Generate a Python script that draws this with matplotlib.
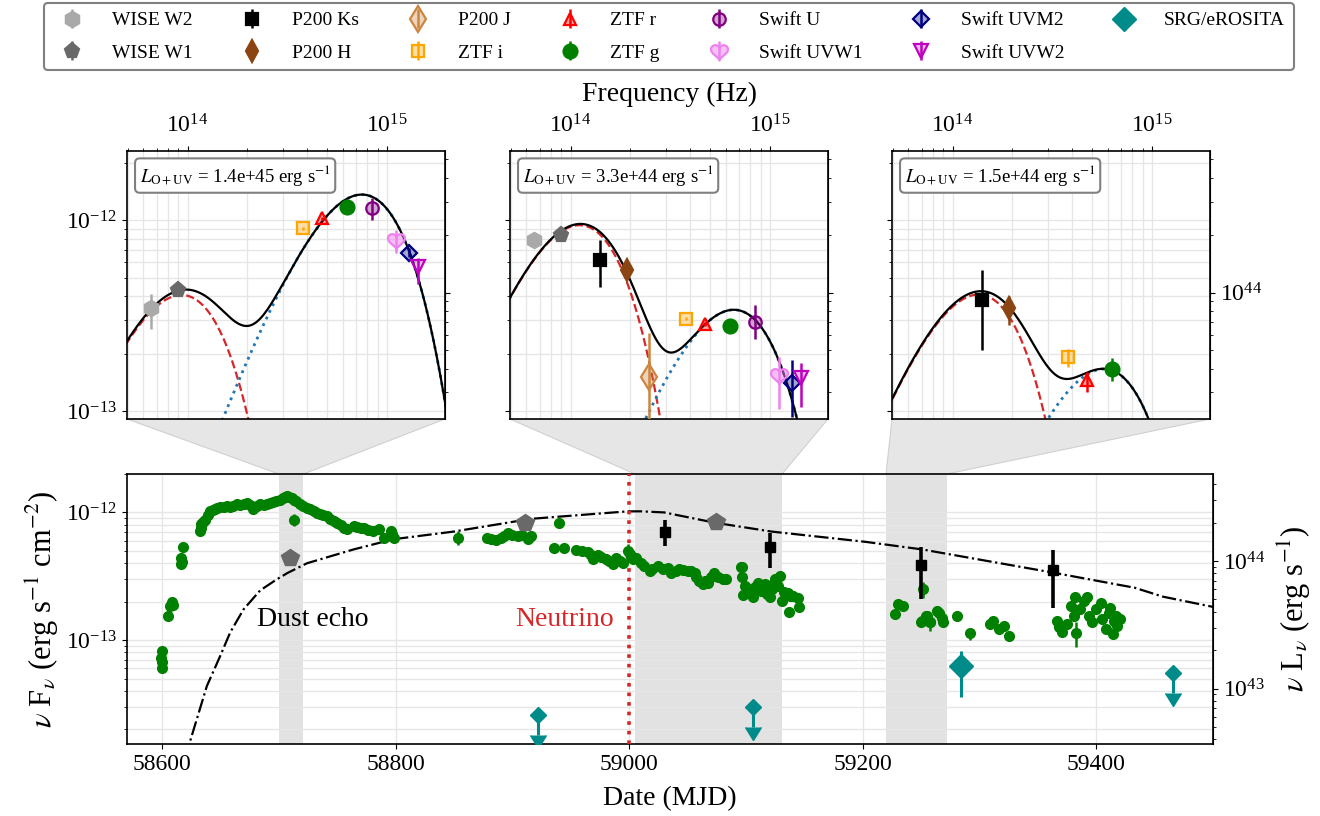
import numpy as np
import matplotlib
matplotlib.use("Agg")
import matplotlib.pyplot as plt
import matplotlib.colors as mcolors
from matplotlib.patches import Polygon
from matplotlib.ticker import NullFormatter

plt.rcParams['font.family'] = ['Liberation Serif', 'DejaVu Serif']
plt.rcParams['mathtext.fontset'] = 'stix'

# ------------------------------------------------------------------ data
lum_factor = 2.4e56          # 4 pi d_L^2  (nuL_nu / nuF_nu)
neutrino_mjd = 59000

# ZTF g light curve (MJD, nuFnu in 1e-13 erg/s/cm2)
ztf_g_mjd = [58599.7, 58600.0, 58600.3, 58599.5, 58605.0, 58607.0, 58608.6, 58609.2,
             58616.3, 58616.6, 58617.2, 58617.8, 58632.6, 58633.0, 58633.5, 58635.0,
             58637.0, 58639.0, 58641.0, 58643.5, 58645.0, 58647.0, 58650.0, 58653.0,
             58655.5, 58658.0, 58661.0, 58664.0, 58667.0, 58670.0, 58672.7, 58675.0,
             58678.0, 58681.0, 58684.0, 58687.0, 58690.0, 58692.7, 58695.0, 58698.0,
             58701.0, 58703.5, 58705.5, 58707.0, 58709.0, 58711.0, 58712.7, 58715.0,
             58718.5, 58721.0, 58724.0, 58727.0, 58730.0, 58733.0, 58735.6, 58738.0,
             58741.0, 58744.0, 58747.0, 58750.0, 58753.0, 58756.0, 58758.5, 58764.0,
             58767.0, 58770.0, 58773.0, 58776.0, 58781.0, 58785.7, 58790.0, 58795.7,
             58797.0, 58798.5, 58878.7, 58882.0, 58886.0, 58890.0, 58893.0, 58896.0,
             58900.0, 58904.5, 58908.0, 58913.0, 58916.0, 58936.0, 58944.5, 58954.5,
             58960.0, 58964.5, 58967.0, 58969.0, 58973.0, 58976.0, 58980.0, 58983.0,
             58986.0, 58989.0, 58992.0, 58994.6, 59000.5, 59001.7, 59003.0, 59006.0,
             59010.0, 59013.0, 59017.5, 59020.0, 59024.6, 59028.9, 59033.0, 59036.0,
             59040.0, 59043.0, 59046.0, 59050.0, 59053.0, 59056.0, 59057.5, 59060.0,
             59063.0, 59065.0, 59067.5, 59070.0, 59072.5, 59076.0, 59080.4, 59083.0,
             59095.5, 59096.7, 59097.6, 59099.0, 59102.0, 59104.0, 59106.0, 59108.0,
             59110.5, 59112.0, 59113.3, 59116.0, 59118.0, 59120.5, 59122.0, 59124.0,
             59125.0, 59127.5, 59129.0, 59130.5, 59133.0, 59136.0, 59138.0, 59140.5,
             59136.5, 59144.6, 59145.5, 59227.7, 59230.6, 59234.8, 59250.0, 59250.6,
             59254.0, 59255.0, 59257.8, 59263.5, 59265.0, 59268.0, 59269.0, 59280.7,
             59309.4, 59312.0, 59316.5, 59320.7, 59325.0, 59366.5, 59368.0, 59370.8,
             59375.0, 59378.0, 59381.0, 59382.0, 59386.5, 59389.4, 59392.3, 59393.6,
             59396.5, 59399.4, 59403.7, 59405.0, 59408.0, 59411.0, 59412.0, 59414.0,
             59415.0, 59416.7, 59418.0, 59420.0]
ztf_g_flux13 = [0.825, 0.67, 0.61, 0.72, 1.54, 1.85, 1.98, 1.90,
                4.43, 3.92, 4.10, 5.36, 7.14, 7.60, 8.06, 8.40,
                8.80, 9.50, 10.2, 10.4, 10.7, 10.9, 11.0, 11.1,
                11.2, 11.0, 11.3, 11.55, 11.4, 11.6, 11.9, 11.5,
                10.55, 11.2, 11.55, 11.4, 11.7, 11.9, 12.0, 12.3,
                12.6, 12.9, 13.3, 13.4, 13.1, 12.9, 12.6, 12.2,
                11.55, 11.3, 10.9, 10.55, 10.3, 9.9, 9.65, 9.5,
                9.35, 8.9, 8.6, 8.3, 8.0, 7.6, 7.37, 7.9,
                7.7, 7.5, 7.6, 7.3, 7.14, 7.37, 6.34, 7.14,
                6.8, 6.34, 6.3, 6.2, 6.1, 6.3, 6.5, 6.9,
                6.6, 6.5, 6.6, 6.15, 6.5, 5.23, 5.23, 5.07,
                4.95, 4.9, 4.6, 4.35, 4.6, 4.5, 4.35, 4.2,
                3.93, 4.43, 4.2, 4.0, 4.7, 4.56, 4.3, 4.43,
                4.0, 3.8, 3.48, 3.6, 3.8, 3.6, 3.7, 3.38,
                3.5, 3.6, 3.55, 3.48, 3.5, 3.38, 3.14, 2.9,
                2.74, 2.9, 2.82, 3.1, 3.38, 3.14, 2.99, 3.0,
                3.76, 3.1, 2.25, 2.67, 2.5, 2.3, 2.16, 2.6,
                2.82, 2.5, 2.44, 2.74, 2.3, 2.16, 2.5, 2.8,
                2.99, 2.67, 3.18, 2.02, 2.4, 2.32, 2.2, 2.22,
                1.66, 2.12, 1.83, 1.60, 1.91, 1.85, 1.38, 1.42,
                1.55, 1.55, 1.38, 1.69, 1.64, 1.50, 1.38, 1.55,
                1.33, 1.42, 1.22, 1.29, 1.08, 1.42, 1.26, 1.15,
                1.33, 1.85, 1.55, 2.16, 1.75, 2.02, 2.16, 1.55,
                1.38, 1.75, 1.97, 1.46, 1.22, 1.64, 1.80, 1.12,
                1.42, 1.55, 1.30, 1.45]
# ZTF g points with visible error bars
ztf_ge_mjd = [58713.0, 58853.5, 58940.0, 58998.9, 59252.0, 59383.0, 59292.0, 59097.0, 59257.8]
ztf_ge_flux13 = [8.8, 6.34, 8.3, 5.0, 2.5, 1.13, 1.13, 3.76, 1.38]
ztf_ge_err13 = [1.0, 0.8, 0.8, 0.7, 0.35, 0.25, 0.12, 0.35, 0.2]

# WISE W1 light curve
wise_w1_mjd = [58710, 58911, 59074]
wise_w1_flux = [4.37e-13, 8.3e-13, 8.4e-13]

# P200 Ks light curve
p200_ks_mjd = [59031, 59121, 59250, 59363]
p200_ks_flux = [7.05e-13, 5.38e-13, 3.85e-13, 3.55e-13]
p200_ks_lo = [5.5e-13, 3.64e-13, 2.1e-13, 1.79e-13]
p200_ks_hi = [8.7e-13, 6.9e-13, 5.4e-13, 5.1e-13]

# SRG/eROSITA
srg_mjd = [59284]
srg_flux = [6.3e-14]
srg_lo = [3.6e-14]
srg_hi = [8.2e-14]
srg_ul_mjd = [58922, 59106, 59466]
srg_ul_flux = [2.58e-14, 3.0e-14, 5.5e-14]

# dust-echo model (dash-dot line)
model_mjd = [58620.0, 58622.6, 58638.4, 58649.8, 58658.4, 58669.8, 58684.0, 58698.5,
             58707.3, 58724.2, 58764.0, 58798.3, 58849.8, 58915.9, 58999.0, 59010.0,
             59030.0, 59073.0, 59122.0, 59202.0, 59251.0, 59362.0, 59433.0, 59457.0, 59500.0]
model_flux = [1.2e-14, 1.46e-14, 4.37e-14, 7.5e-14, 1.15e-13, 1.74e-13, 2.45e-13, 3.0e-13,
              3.35e-13, 4.0e-13, 5.13e-13, 6.17e-13, 7.08e-13, 8.91e-13, 1.02e-12, 1.02e-12,
              1.0e-12, 8.32e-13, 7.08e-13, 5.89e-13, 5.13e-13, 3.39e-13, 2.57e-13, 2.19e-13, 1.82e-13]

# SED epochs shaded in the light curve (MJD ranges)
epoch_start = [58700, 59005, 59220]
epoch_end = [58721, 59131, 59272]
epoch_lum = ['1.4e+45', '3.3e+44', '1.5e+44']

# blackbody components per epoch: peak frequency (Hz) and peak nuFnu
dust_peak_nu = [9.33e13, 1.11e14, 1.35e14]
dust_peak_flux = [4.05e-13, 9.4e-13, 4.07e-13]
opt_peak_nu = [7.5e14, 6.6e14, 5.75e14]
opt_peak_flux = [1.36e-12, 3.39e-13, 1.66e-13]

# band effective frequencies (Hz)
band_nu = {'WISE W2': 6.55e13, 'WISE W1': 8.98e13, 'P200 Ks': 1.40e14, 'P200 H': 1.91e14,
           'P200 J': 2.49e14, 'ZTF i': 3.78e14, 'ZTF r': 4.71e14, 'ZTF g': 6.35e14,
           'Swift U': 8.45e14, 'Swift UVW1': 1.11e15, 'Swift UVM2': 1.30e15,
           'Swift UVW2': 1.43e15}

# SED points: band, flux, lower, upper
sed1_band = ['WISE W2', 'WISE W1', 'ZTF i', 'ZTF r', 'ZTF g', 'Swift U', 'Swift UVW1',
             'Swift UVM2', 'Swift UVW2']
sed1_flux = [3.45e-13, 4.3e-13, 9.05e-13, 1.02e-12, 1.17e-12, 1.16e-12, 7.85e-13, 6.74e-13, 5.7e-13]
sed1_lo = [2.7e-13, 4.2e-13, 8.9e-13, 1.0e-12, 1.15e-12, 1.0e-12, 6.7e-13, 6.4e-13, 4.6e-13]
sed1_hi = [4.1e-13, 4.4e-13, 9.2e-13, 1.04e-12, 1.19e-12, 1.3e-12, 8.9e-13, 7.1e-13, 6.3e-13]

sed2_band = ['WISE W2', 'WISE W1', 'P200 Ks', 'P200 H', 'P200 J', 'ZTF i', 'ZTF r', 'ZTF g',
             'Swift U', 'Swift UVW1', 'Swift UVM2', 'Swift UVW2']
sed2_flux = [7.85e-13, 8.34e-13, 6.18e-13, 5.47e-13, 1.51e-13, 3.05e-13, 2.85e-13, 2.8e-13,
             2.94e-13, 1.54e-13, 1.41e-13, 1.48e-13]
sed2_lo = [7.7e-13, 8.2e-13, 4.48e-13, 5.2e-13, 5.0e-14, 2.98e-13, 2.78e-13, 2.72e-13,
           2.38e-13, 1.03e-13, 9.3e-14, 1.05e-13]
sed2_hi = [8.0e-13, 8.5e-13, 7.85e-13, 5.75e-13, 2.55e-13, 3.12e-13, 2.92e-13, 2.88e-13,
           3.59e-13, 1.92e-13, 1.85e-13, 1.79e-13]

sed3_band = ['P200 Ks', 'P200 H', 'ZTF i', 'ZTF r', 'ZTF g']
sed3_flux = [3.81e-13, 3.45e-13, 1.92e-13, 1.45e-13, 1.65e-13]
sed3_lo = [2.08e-13, 2.82e-13, 1.69e-13, 1.26e-13, 1.44e-13]
sed3_hi = [5.47e-13, 3.98e-13, 2.1e-13, 1.61e-13, 1.89e-13]

sed_bands = [sed1_band, sed2_band, sed3_band]
sed_flux = [sed1_flux, sed2_flux, sed3_flux]
sed_lo = [sed1_lo, sed2_lo, sed3_lo]
sed_hi = [sed1_hi, sed2_hi, sed3_hi]

legend_order = ['WISE W2', 'WISE W1', 'P200 Ks', 'P200 H', 'P200 J', 'ZTF i', 'ZTF r', 'ZTF g',
                'Swift U', 'Swift UVW1', 'Swift UVM2', 'Swift UVW2', 'SRG/eROSITA']

# ------------------------------------------------------------------ styles
t = np.linspace(0, 2 * np.pi, 80)
heart = np.column_stack([16 * np.sin(t) ** 3,
                         13 * np.cos(t) - 5 * np.cos(2 * t) - 2 * np.cos(3 * t) - np.cos(4 * t)])


def semi(c, a=0.35):
    return mcolors.to_rgba(c, a)


styles = {
    'WISE W2': dict(marker='h', color='darkgray', mfc='darkgray', ms=11),
    'WISE W1': dict(marker='p', color='dimgray', mfc='dimgray', ms=11),
    'P200 Ks': dict(marker='s', color='black', mfc='black', ms=8),
    'P200 H': dict(marker='d', color='saddlebrown', mfc='saddlebrown', ms=11),
    'P200 J': dict(marker='d', color='peru', mfc=semi('peru'), ms=13),
    'ZTF i': dict(marker='s', color='orange', mfc=semi('orange'), ms=9),
    'ZTF r': dict(marker='^', color='red', mfc=semi('red'), ms=9),
    'ZTF g': dict(marker='o', color='green', mfc='green', ms=10),
    'Swift U': dict(marker='o', color='purple', mfc=semi('purple'), ms=9),
    'Swift UVW1': dict(marker=heart, color='violet', mfc=semi('violet', 0.5), ms=13),
    'Swift UVM2': dict(marker='D', color='navy', mfc=semi('navy'), ms=8),
    'Swift UVW2': dict(marker='v', color='m', mfc=semi('m', 0.25), ms=10),
    'SRG/eROSITA': dict(marker='D', color='darkcyan', mfc='darkcyan', ms=8),
}

# ------------------------------------------------------------------ layout
W, H = 1320, 816
fig = plt.figure(figsize=(W / 100, H / 100), dpi=100)


def box(l, t_, r, b):
    return [l / W, 1 - b / H, (r - l) / W, (b - t_) / H]


ax = fig.add_axes(box(127, 474, 1213, 744))
insets = [fig.add_axes(box(l, 151, l + 318, 419)) for l in (127, 510, 892)]

grid_kw = dict(color='#e6e6e6', lw=1.0)
handles = {}


def bb_shape(nu, nu_peak, f_peak):
    xp = 3.9207
    x = xp * nu / nu_peak
    return f_peak * (x ** 4 / np.expm1(x)) / (xp ** 4 / np.expm1(xp))


nu_grid = np.logspace(13.6, 15.45, 500)

for i, axi in enumerate(insets):
    axi.set_xscale('log')
    axi.set_yscale('log')
    axi.set_xlim(4.97e13, 1.96e15)
    axi.set_ylim(9.08e-14, 2.3e-12)
    dust = bb_shape(nu_grid, dust_peak_nu[i], dust_peak_flux[i])
    opt = bb_shape(nu_grid, opt_peak_nu[i], opt_peak_flux[i])
    axi.plot(nu_grid, dust, ls='--', color='tab:red', lw=1.6, zorder=2)
    axi.plot(nu_grid, opt, ls=':', color='tab:blue', lw=2.0, zorder=2)
    axi.plot(nu_grid, dust + opt, '-', color='black', lw=1.6, zorder=3)
    for b, f, lo, hi in zip(sed_bands[i], sed_flux[i], sed_lo[i], sed_hi[i]):
        st = styles[b]
        eb = axi.errorbar([band_nu[b]], [f], yerr=[[f - lo], [hi - f]], fmt='none',
                          ecolor=st['color'], elinewidth=1.8, capsize=0, zorder=4)
        ln, = axi.plot([band_nu[b]], [f], linestyle='none', marker=st['marker'],
                       ms=st['ms'], mfc=st['mfc'], mec=st['color'], mew=1.6, zorder=5)
        handles[b] = (eb, ln)
    axi.grid(True, which='both', **grid_kw)
    axi.set_axisbelow(True)
    axi.xaxis.tick_top()
    axi.tick_params(axis='x', which='both', top=True, bottom=False, labeltop=True,
                    labelbottom=False, labelsize=17, pad=6)
    axi.tick_params(axis='y', which='both', labelsize=17, right=False)
    axi.yaxis.set_minor_formatter(NullFormatter())
    axi.xaxis.set_minor_formatter(NullFormatter())
    if i > 0:
        axi.tick_params(axis='y', which='both', labelleft=False)
    sec = axi.secondary_yaxis('right', functions=(lambda f: f * lum_factor,
                                                  lambda l: l / lum_factor))
    sec.tick_params(which='both', labelsize=17)
    sec.yaxis.set_minor_formatter(NullFormatter())
    if i < 2:
        sec.tick_params(which='both', labelright=False)
    axi.text(0.04, 0.955, r'$L_{\rm O+UV}$ = ' + epoch_lum[i] + r' erg s$^{-1}$',
             transform=axi.transAxes, fontsize=13.5, va='top', ha='left', zorder=10,
             bbox=dict(boxstyle='round,pad=0.25', fc='white', ec='gray', lw=1.5))
    for sp in axi.spines.values():
        sp.set_linewidth(1.2)

insets[1].set_xlabel('Frequency (Hz)', fontsize=20, labelpad=10)
insets[1].xaxis.set_label_position('top')

# ------------------------------------------------------------------ main light curve
ax.set_yscale('log')
ax.set_xlim(58570, 59500)
ax.set_ylim(1.535e-14, 2.0e-12)
ax.set_xticks([58600, 58800, 59000, 59200, 59400])
ax.grid(True, which='major', axis='x', **grid_kw)
ax.grid(True, which='both', axis='y', **grid_kw)
ax.set_axisbelow(True)
ax.yaxis.set_minor_formatter(NullFormatter())
ax.tick_params(labelsize=17)
ax.tick_params(axis='y', which='both', right=False)

for a, b in zip(epoch_start, epoch_end):
    ax.axvspan(a, b, color='#e2e2e2', zorder=0, lw=0)

ax.plot(model_mjd, model_flux, '-.', color='black', lw=1.6, zorder=3)
ax.axvline(neutrino_mjd, color='tab:red', ls=':', lw=2.6, zorder=3)

ax.plot(ztf_g_mjd, np.array(ztf_g_flux13) * 1e-13, linestyle='none', marker='o',
        ms=7, color='green', zorder=4)
ax.errorbar(ztf_ge_mjd, np.array(ztf_ge_flux13) * 1e-13, yerr=np.array(ztf_ge_err13) * 1e-13,
            fmt='o', ms=7, color='green', elinewidth=1.8, capsize=0, zorder=4)

ax.plot(wise_w1_mjd, wise_w1_flux, linestyle='none', marker='p', ms=13, color='dimgray', zorder=5)

ks_f = np.array(p200_ks_flux)
ax.errorbar(p200_ks_mjd, ks_f, yerr=[ks_f - np.array(p200_ks_lo), np.array(p200_ks_hi) - ks_f],
            fmt='s', ms=7, color='black', elinewidth=2.6, capsize=0, zorder=6)

sf = np.array(srg_flux)
srg_eb = ax.errorbar(srg_mjd, sf, yerr=[sf - np.array(srg_lo), np.array(srg_hi) - sf],
                     fmt='none', ecolor='darkcyan', elinewidth=2.2, capsize=0, zorder=6)
srg_ln, = ax.plot(srg_mjd, sf, linestyle='none', marker='D', ms=12, color='darkcyan', zorder=7)
handles['SRG/eROSITA'] = (srg_eb, srg_ln)
ul = np.array(srg_ul_flux)
ax.errorbar(srg_ul_mjd, ul, yerr=ul * 0.3, uplims=True, fmt='D', ms=8, color='darkcyan',
            elinewidth=2.2, capsize=6, zorder=6)

ax.text(58729, 1.46e-13, 'Dust echo', fontsize=20, ha='center', va='center', zorder=8)
ax.text(58987, 1.46e-13, 'Neutrino', fontsize=20, ha='right', va='center',
        color='tab:red', zorder=8)

ax.set_xlabel('Date (MJD)', fontsize=20, labelpad=8)
ax.set_ylabel(r'$\nu$ F$_\nu$ (erg s$^{-1}$ cm$^{-2}$)', fontsize=22, labelpad=4)
secm = ax.secondary_yaxis('right', functions=(lambda f: f * lum_factor,
                                              lambda l: l / lum_factor))
secm.tick_params(which='both', labelsize=17)
secm.yaxis.set_minor_formatter(NullFormatter())
secm.set_ylabel(r'$\nu$ L$_\nu$ (erg s$^{-1}$)', fontsize=22, labelpad=8)
for sp in ax.spines.values():
    sp.set_linewidth(1.2)

# ------------------------------------------------------------------ connectors
to_fig = fig.transFigure.inverted()
xa = ax.get_xaxis_transform()
for axi, a, b in zip(insets, epoch_start, epoch_end):
    pos = axi.get_position()
    pa = to_fig.transform(xa.transform((a, 1.0)))
    pb = to_fig.transform(xa.transform((b, 1.0)))
    poly = Polygon([(pos.x0, pos.y0), (pos.x1, pos.y0), tuple(pb), tuple(pa)], closed=True,
                   transform=fig.transFigure, facecolor='#e6e6e6', edgecolor='#d0d0d0',
                   lw=0.8, zorder=0)
    fig.add_artist(poly)

# ------------------------------------------------------------------ legend
leg = fig.legend([handles[k] for k in legend_order], legend_order, loc='upper center',
                 bbox_to_anchor=(669 / W, 1 - 3 / H), ncol=7, fontsize=14,
                 handlelength=2.0, handletextpad=1.05, columnspacing=2.05,
                 labelspacing=0.75, borderpad=0.45, borderaxespad=0.0, fancybox=True,
                 framealpha=1, edgecolor='gray')
leg.get_frame().set_linewidth(1.5)

fig.savefig('out.png', dpi=100)
